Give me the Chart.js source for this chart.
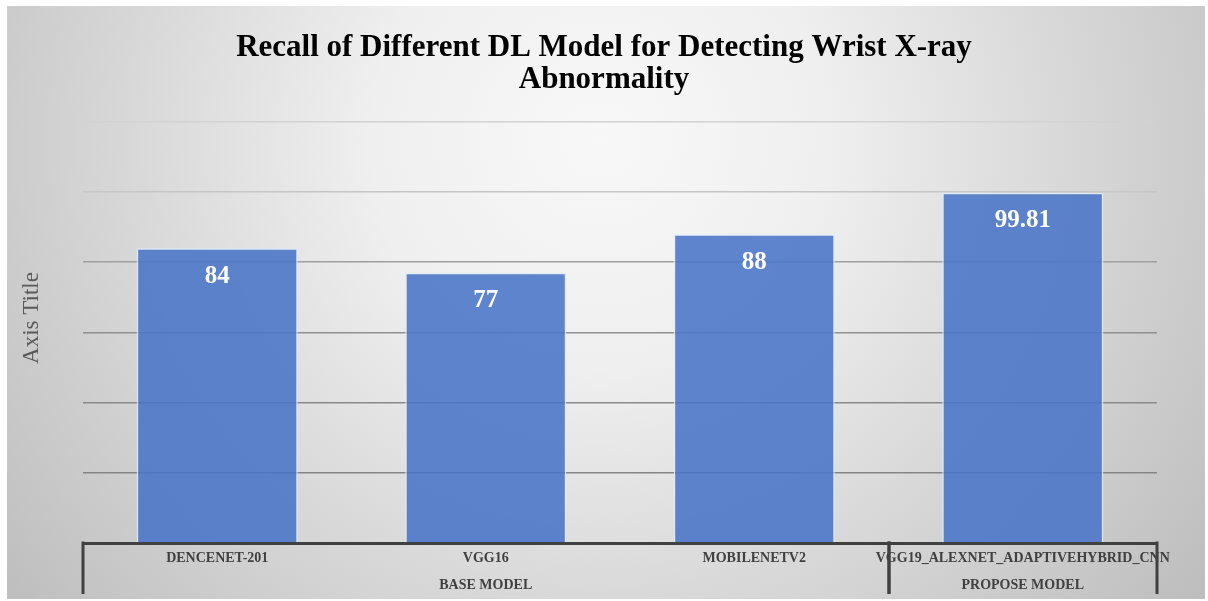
<!DOCTYPE html>
<html>
<head>
    <meta charset="utf-8">
    <title>Recall of Different DL Model</title>
    <script src="https://cdn.jsdelivr.net/npm/chart.js"></script>
    <style>
        html, body {
            margin: 0;
            padding: 0;
            background: #ffffff;
        }
        #wrap {
            width: 1208px;
            height: 601px;
        }
    </style>
</head>
<body>
    <div id="wrap"><canvas id="recallChart"></canvas></div>

    <script>
        // Chart data
        const models = ['DENCENET-201', 'VGG16', 'MOBILENETV2', 'VGG19_ALEXNET_ADAPTIVEHYBRID_CNN'];
        const recall = [84, 77, 88, 99.81];
        const groupNames = ['BASE MODEL', 'PROPOSE MODEL'];
        const groupSizes = [3, 1];
        const titleLines = ['Recall of Different DL Model for Detecting Wrist X-ray', 'Abnormality'];
        const yAxisTitle = 'Axis Title';

        const serif = "'Liberation Serif', 'Times New Roman', serif";
        const darkLine = '#404040';

        // Grey panel with a lighter middle, like the Office chart style
        const backgroundPlugin = {
            id: 'panelBackground',
            beforeDraw(chart) {
                const ctx = chart.ctx;
                ctx.save();
                ctx.fillStyle = '#ffffff';
                ctx.fillRect(0, 0, chart.width, chart.height);
                const g = ctx.createRadialGradient(600, 140, 0, 600, 140, 760);
                g.addColorStop(0, '#f8f8f8');
                g.addColorStop(0.3, '#efefef');
                g.addColorStop(0.6, '#d9d9d9');
                g.addColorStop(1, '#bdbdbd');
                ctx.fillStyle = g;
                ctx.fillRect(7, 6, chart.width - 10, chart.height - 8);
                ctx.restore();
            }
        };

        // Value labels inside the top of each bar, axis title, grouped category axis
        const extrasPlugin = {
            id: 'extras',
            afterDatasetsDraw(chart) {
                const ctx = chart.ctx;
                const meta = chart.getDatasetMeta(0);
                ctx.save();
                ctx.fillStyle = '#ffffff';
                ctx.font = 'bold 25px ' + serif;
                ctx.textAlign = 'center';
                ctx.textBaseline = 'middle';
                meta.data.forEach((bar, i) => {
                    ctx.fillText(String(recall[i]), bar.x, bar.y + 28);
                });
                ctx.restore();
            },
            afterDraw(chart) {
                const ctx = chart.ctx;
                const x = chart.scales.x;
                const area = chart.chartArea;
                const step = x.getPixelForValue(1) - x.getPixelForValue(0);
                const lineBottom = area.bottom + 51;

                ctx.save();
                // y axis title
                ctx.translate(32, 318);
                ctx.rotate(-Math.PI / 2);
                ctx.fillStyle = '#595959';
                ctx.font = '23px ' + serif;
                ctx.textAlign = 'center';
                ctx.textBaseline = 'middle';
                ctx.fillText(yAxisTitle, 0, 0);
                ctx.restore();

                ctx.save();
                ctx.strokeStyle = darkLine;
                ctx.lineWidth = 3;
                ctx.fillStyle = darkLine;
                ctx.font = 'bold 14px ' + serif;
                ctx.textAlign = 'center';
                ctx.textBaseline = 'middle';

                let start = 0;
                groupSizes.forEach((size, gi) => {
                    const left = x.getPixelForValue(start) - step / 2;
                    const right = x.getPixelForValue(start + size - 1) + step / 2;
                    // group separators
                    [left, right].forEach(px => {
                        ctx.beginPath();
                        ctx.moveTo(Math.round(px), area.bottom - 1.5);
                        ctx.lineTo(Math.round(px), lineBottom);
                        ctx.stroke();
                    });
                    ctx.fillText(groupNames[gi], (left + right) / 2, area.bottom + 42);
                    start += size;
                });
                ctx.restore();
            }
        };

        const gridColours = {
            20: '#858585',
            40: '#8a8a8a',
            60: '#909090',
            80: '#a0a0a0',
            100: '#c6c6c6',
            120: '#d2d2d2'
        };

        new Chart(document.getElementById('recallChart'), {
            type: 'bar',
            data: {
                labels: models,
                datasets: [{
                    label: 'Recall',
                    data: recall,
                    backgroundColor: 'rgba(72, 116, 198, 0.88)',
                    borderColor: 'rgba(225, 235, 252, 0.85)',
                    borderWidth: 1.5,
                    barPercentage: 0.6,
                    categoryPercentage: 1.0
                }]
            },
            options: {
                responsive: true,
                maintainAspectRatio: false,
                animation: false,
                layout: {
                    padding: 0
                },
                plugins: {
                    legend: { display: false },
                    tooltip: { enabled: false },
                    title: {
                        display: true,
                        text: titleLines,
                        color: '#000000',
                        font: { family: serif, size: 31, weight: 'bold', lineHeight: 1.03 },
                        padding: { top: 32, bottom: 26 }
                    }
                },
                scales: {
                    x: {
                        grid: { display: false, drawTicks: false },
                        border: { display: true, color: darkLine, width: 3 },
                        ticks: {
                            autoSkip: false,
                            maxRotation: 0,
                            padding: 7,
                            color: darkLine,
                            font: { family: serif, size: 14, weight: 'bold' }
                        },
                        afterFit(scale) { scale.height = 58; }
                    },
                    y: {
                        min: 0,
                        max: 120,
                        ticks: { display: false, stepSize: 20 },
                        border: { display: false },
                        grid: {
                            drawTicks: false,
                            lineWidth: 1.5,
                            color: ctx => gridColours[ctx.tick.value] || 'rgba(0,0,0,0)'
                        },
                        afterFit(scale) { scale.width = 83; }
                    },
                    spacer: {
                        type: 'linear',
                        position: 'right',
                        display: true,
                        ticks: { display: false },
                        grid: { display: false, drawTicks: false },
                        border: { display: false },
                        afterFit(scale) { scale.width = 51; }
                    }
                }
            },
            plugins: [backgroundPlugin, extrasPlugin]
        });
    </script>
</body>
</html>
